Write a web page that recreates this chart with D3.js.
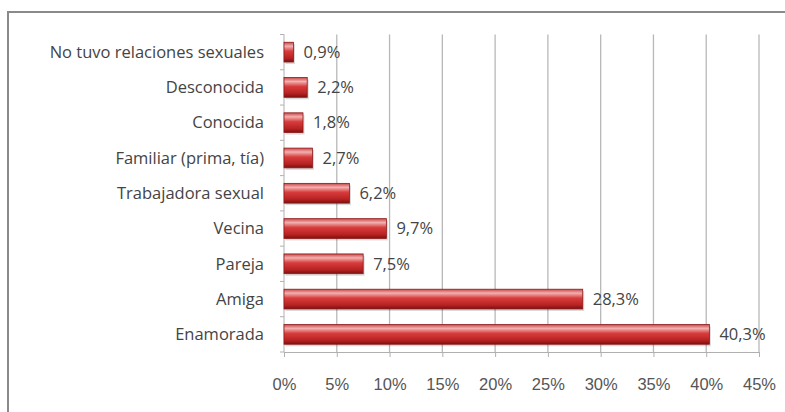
<!DOCTYPE html>
<html lang="es">
<head>
<meta charset="UTF-8">
<title>Relaciones sexuales</title>
<script src="https://d3js.org/d3.v7.min.js"></script>
<style>
    body { margin: 0; background: #fff; }
    svg { display: block; font-family: "Open Sans", "Noto Sans", sans-serif; }
</style>
</head>
<body>
<svg id="chart" width="785" height="412"></svg>
<script>
// data, top to bottom
const categories = ["No tuvo relaciones sexuales", "Desconocida", "Conocida", "Familiar (prima, tía)",
    "Trabajadora sexual", "Vecina", "Pareja", "Amiga", "Enamorada"];
const values = [0.9, 2.2, 1.8, 2.7, 6.2, 9.7, 7.5, 28.3, 40.3];
const ticks = [0, 5, 10, 15, 20, 25, 30, 35, 40, 45];

const svg = d3.select("#chart");
const plotL = 284, plotR = 759, plotT = 34.5, plotB = 352;
const fs = 16.5;

// frame (only top and left edges are visible)
svg.append("path")
    .attr("d", "M8,412 L8,12 L785,12")
    .attr("fill", "none").attr("stroke", "#8a8a8a").attr("stroke-width", 2);

const x = d3.scaleLinear().domain([0, 45]).range([plotL, plotR]);
const y = d3.scaleBand().domain(categories).range([plotT, plotB]).paddingInner(0.44).paddingOuter(0.22);

// gradient for the cylinder look
const defs = svg.append("defs");
const grad = defs.append("linearGradient").attr("id", "barGrad")
    .attr("x1", 0).attr("y1", 0).attr("x2", 0).attr("y2", 1);
grad.append("stop").attr("offset", "0%").attr("stop-color", "#c84848");
grad.append("stop").attr("offset", "20%").attr("stop-color", "#f3b0b0");
grad.append("stop").attr("offset", "45%").attr("stop-color", "#d83c3c");
grad.append("stop").attr("offset", "80%").attr("stop-color", "#b82222");
grad.append("stop").attr("offset", "100%").attr("stop-color", "#7a1010");

// grid lines
svg.append("g")
    .selectAll("line")
    .data(ticks.slice(1))
    .join("line")
    .attr("x1", d => x(d)).attr("x2", d => x(d))
    .attr("y1", plotT).attr("y2", plotB)
    .attr("stroke", "#b8b8b8").attr("stroke-width", 1.3);

// x axis
const xAxis = svg.append("g")
    .attr("transform", `translate(0,${plotB})`)
    .call(d3.axisBottom(x).tickValues(ticks).tickFormat(d => d + "%").tickSize(5).tickPadding(21));
xAxis.select(".domain").attr("stroke", "#b0b0b0");
xAxis.selectAll(".tick line").attr("stroke", "#b0b0b0");
xAxis.selectAll("text").attr("fill", "#555").attr("font-size", fs);

// y axis
const yAxis = svg.append("g").attr("transform", `translate(${plotL},0)`);
yAxis.append("line").attr("x1", 0).attr("x2", 0).attr("y1", plotT).attr("y2", plotB)
    .attr("stroke", "#b0b0b0");
yAxis.selectAll("line.tk")
    .data(d3.range(categories.length + 1))
    .join("line").attr("class", "tk")
    .attr("x1", -4).attr("x2", 0)
    .attr("y1", i => plotT + i * (plotB - plotT) / categories.length)
    .attr("y2", i => plotT + i * (plotB - plotT) / categories.length)
    .attr("stroke", "#b0b0b0");
svg.append("g")
    .selectAll("text")
    .data(categories)
    .join("text")
    .attr("x", 264)
    .attr("y", d => y(d) + y.bandwidth() / 2)
    .attr("dy", "0.35em")
    .attr("text-anchor", "end")
    .attr("fill", "#444")
    .attr("font-size", fs)
    .text(d => d);

// bar shadows
svg.append("g")
    .selectAll("rect")
    .data(values)
    .join("rect")
    .attr("x", plotL + 1.5)
    .attr("y", (d, i) => y(categories[i]) + 2)
    .attr("width", d => x(d) - plotL)
    .attr("height", y.bandwidth())
    .attr("fill", "#000").attr("opacity", 0.15);

// bars
svg.append("g")
    .selectAll("rect")
    .data(values)
    .join("rect")
    .attr("x", plotL)
    .attr("y", (d, i) => y(categories[i]))
    .attr("width", d => x(d) - plotL)
    .attr("height", y.bandwidth())
    .attr("fill", "url(#barGrad)")
    .attr("stroke", "#8e1b1b").attr("stroke-width", 0.8);

// value labels
svg.append("g")
    .selectAll("text")
    .data(values)
    .join("text")
    .attr("x", d => x(d) + 10)
    .attr("y", (d, i) => y(categories[i]) + y.bandwidth() / 2)
    .attr("dy", "0.35em")
    .attr("fill", "#444")
    .attr("font-size", fs)
    .text(d => d.toFixed(1).replace(".", ",") + "%");
</script>
</body>
</html>
